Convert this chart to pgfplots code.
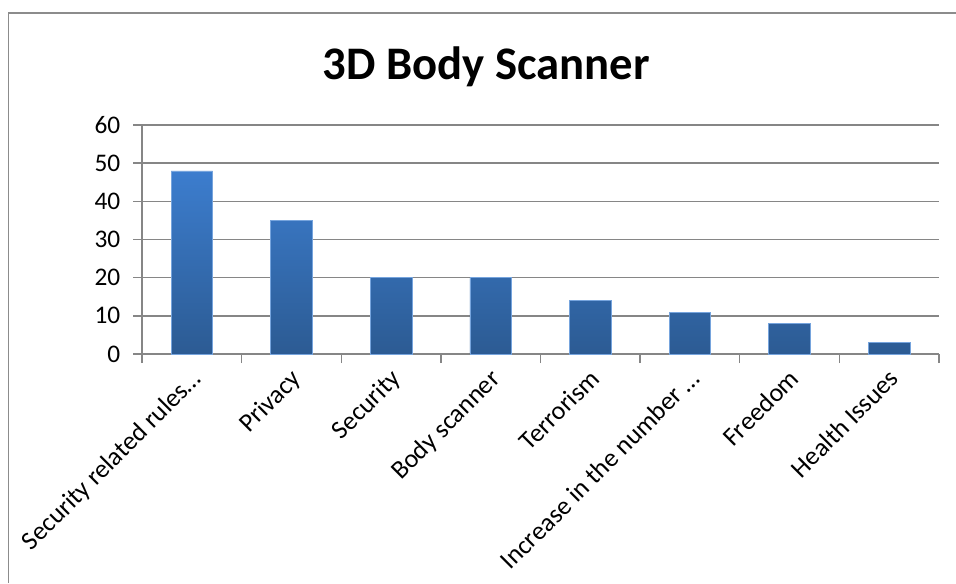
\documentclass[border=0pt]{standalone}
\usepackage{pgfplots}
\pgfplotsset{compat=1.18}
\usepackage{fontspec}
\setmainfont{Carlito}

\definecolor{barTop}{RGB}{60,125,206}
\definecolor{barBottom}{RGB}{44,91,147}
\definecolor{gridGray}{RGB}{134,134,134}
\definecolor{frameGray}{RGB}{140,140,140}

\pgfplotstableread{
x  count
0  48
1  35
2  20
3  20
4  14
5  11
6  8
7  3
}\scannerdata

\begin{document}
% canvas of 956 x 583 px, 1 px = 0.75pt
\begin{tikzpicture}[x=0.75pt,y=0.75pt]
\path[use as bounding box] (0,0) rectangle (956,583);
% chart area frame
\draw[frameGray,line width=1.4pt] (8.5,0) -- (8.5,570) -- (956,570);
% title
\node[anchor=base,font=\bfseries\fontsize{35}{42}\selectfont] at (486,503) {3D Body Scanner};
\begin{axis}[
  at={(106.5pt,171.75pt)}, anchor=south west,
  scale only axis,
  width=597.75pt, height=171.75pt,
  xmin=-0.5, xmax=7.5,
  ymin=0, ymax=60,
  ytick={0,10,...,60},
  xtick={0,...,7},
  xticklabels={Security related rules…,Privacy,Security,Body scanner,Terrorism,Increase in the number …,Freedom,Health Issues},
  minor xtick={-0.5,0.5,...,7.5},
  axis lines*=left,
  axis line style={gridGray,line width=1.1pt},
  ymajorgrids,
  major grid style={gridGray,line width=1.1pt},
  tick align=outside,
  major tick length=6.75pt,
  minor tick length=6.75pt,
  x tick style={draw=none},
  minor x tick style={gridGray,line width=1.1pt,draw=gridGray},
  y tick style={gridGray,line width=1.1pt},
  /pgf/number format/assume math mode=true,
  yticklabel style={font=\fontsize{19}{22}\selectfont,black,xshift=-6pt},
  xticklabel style={font=\fontsize{19.5}{23}\selectfont,black,
    rotate=45,anchor=north east,xshift=0pt,yshift=2pt},
  clip=false,
]
\addplot[ybar,bar width=31.2pt,draw=barTop!70!white,line width=0.4pt,
  top color=barTop,bottom color=barBottom] table[x=x,y=count] {\scannerdata};
\end{axis}
\end{tikzpicture}
\end{document}
